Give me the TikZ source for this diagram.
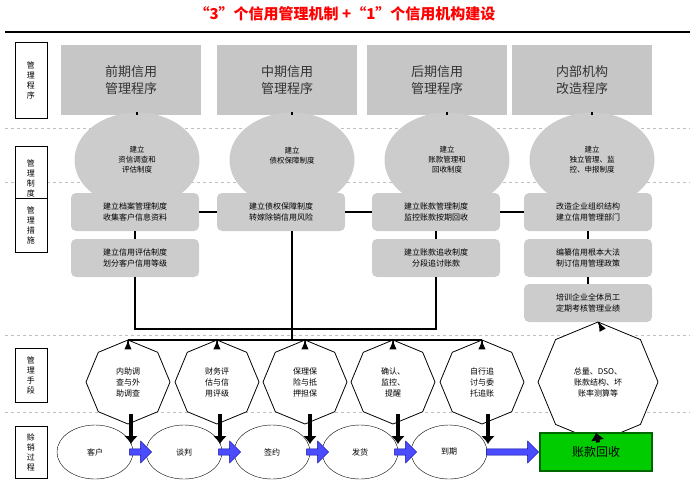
\documentclass[tikz,border=0pt]{standalone}
\usepackage{fontspec}
\setmainfont{Noto Sans CJK SC}
\usetikzlibrary{positioning,shapes.geometric,shapes.arrows,arrows.meta}
\tikzset{
  rowlab/.style={draw,thick,fill=white,minimum width=32pt,align=center,font=\fontsize{8}{10}\selectfont,inner sep=1pt},
  prog/.style={fill=gray!45,minimum width=140pt,minimum height=70pt,align=center,font=\fontsize{13}{17}\selectfont,text=black!80},
  inst/.style={ellipse,fill=gray!40,minimum width=125pt,minimum height=95pt,align=center,font=\fontsize{7.5}{10}\selectfont},
  meas/.style={rounded corners=5pt,fill=gray!40,minimum width=128pt,minimum height=38pt,align=center,font=\fontsize{8}{11}\selectfont},
  tool/.style={regular polygon,regular polygon sides=8,shape border rotate=22.5,draw,thick,fill=white,minimum width=84pt,inner sep=0pt,align=center,font=\fontsize{8}{11}\selectfont},
  stage/.style={ellipse,draw,fill=white,minimum width=76pt,minimum height=54pt,font=\fontsize{8}{10}\selectfont},
  blue arrow/.style={single arrow,draw=blue!60!black,fill=blue!70,minimum height=#1,minimum width=22pt,single arrow head extend=3pt,inner sep=1pt},
  link/.style={line width=2pt},
  down/.style={line width=1.5pt,-Latex},
  fat/.style={line width=4pt,-{Latex[length=8pt,width=14pt]}},
  sep/.style={gray!50,dashed}
}
\begin{document}
\begin{tikzpicture}[x=1pt,y=-1pt]
\useasboundingbox (0,0) rectangle (690,490);
\node[text=red,font=\fontsize{15}{17}\selectfont\bfseries] (title) at (345,14) {“3”个信用管理机制 +“1”个信用机构建设};
\draw[line width=1.5pt] (5,32) -- (690,32);
% separators
\foreach \y in {128,182,335,412} \draw[sep] (5,\y) -- (690,\y);
% row labels
\node[rowlab,minimum height=76pt] (r1) at (31,80) {管\\理\\程\\序};
\node[rowlab,minimum height=64pt] (r2) at (31,178) {管\\理\\制\\度};
\node[rowlab,minimum height=54pt] (r3) at (31,225) {管\\理\\措\\施};
\node[rowlab,minimum height=54pt] (r4) at (31,375) {管\\理\\手\\段};
\node[rowlab,minimum height=52pt] (r5) at (31,452) {赊\\销\\过\\程};
% programmes
\node[prog] (p1) at (131,80) {前期信用\\管理程序};
\node[prog] (p2) at (287,80) {中期信用\\管理程序};
\node[prog] (p3) at (437,80) {后期信用\\管理程序};
\node[prog] (p4) at (582,80) {内部机构\\改造程序};
% institutions
\node[inst] (i1) at (137,160) {建立\\资信调查和\\评估制度};
\node[inst] (i2) at (292,160) {建立\\债权保障制度\\~};
\node[inst] (i3) at (447,160) {建立\\账款管理和\\回收制度};
\node[inst] (i4) at (592,160) {建立\\独立管理、监\\控、申报制度};
\foreach \i in {1,...,4} \draw[link] (p\i.south -| i\i) -- (i\i.north);
% measures
\node[meas] (m1) at (135,212) {建立档案管理制度\\收集客户信息资料};
\node[meas] (m2) at (281,212) {建立债权保障制度\\转嫁除销信用风险};
\node[meas] (m3) at (436,212) {建立账款管理制度\\监控账款按期回收};
\node[meas] (m4) at (588,212) {改造企业组织结构\\建立信用管理部门};
\node[meas] (m5) at (135,258) {建立信用评估制度\\划分客户信用等级};
\node[meas] (m6) at (436,258) {建立账款追收制度\\分段追讨账款};
\node[meas] (m7) at (588,258) {编纂信用根本大法\\制订信用管理政策};
\node[meas] (m8) at (588,303) {培训企业全体员工\\定期考核管理业绩};
\draw[link] (m1) -- (m2) (m2) -- (m3) (m3) -- (m4);
\draw[link] (m1) -- (m5) (m3) -- (m6) (m4) -- (m7) (m7) -- (m8);
\coordinate (j0) at (292,329);
\draw[link] (m5.south) |- (j0) -| (m6.south);
\draw[link] (m2.south -| j0) -- (292,340);
% tools
\node[tool] (t1) at (128,382) {内助调\\查与外\\助调查};
\node[tool] (t2) at (217,382) {财务评\\估与信\\用评级};
\node[tool] (t3) at (305,382) {保理保\\险与抵\\押担保};
\node[tool] (t4) at (393,382) {确认、\\监控、\\提醒};
\node[tool] (t5) at (482,382) {自行追\\讨与委\\托追账};
\node[tool,minimum width=120pt] (t6) at (598,382) {总量、DSO、\\账款结构、坏\\账率测算等};
\draw[link] (128,340) -- (482,340);
\foreach \i/\x in {1/128,2/217,3/305,4/393,5/482} \draw[down] (\x,340) -- (t\i.north);
\draw[down] (m8) -- (t6.north);
% steps
\node[stage] (s1) at (95,452) {客户};
\node[stage] (s2) at (184,452) {谈判};
\node[stage] (s3) at (272,452) {签约};
\node[stage] (s4) at (360,452) {发货};
\node[stage] (s5) at (449,452) {到期};
\node[draw=green!40!black,line width=1.5pt,fill=green!80!black,minimum width=112pt,minimum height=38pt,font=\fontsize{12}{14}\selectfont] (goal) at (596,452) {账款回收};
\node[blue arrow=22pt] (a1) at (139,452) {};
\node[blue arrow=22pt] (a2) at (228,452) {};
\node[blue arrow=22pt] (a3) at (316,452) {};
\node[blue arrow=22pt] (a4) at (404,452) {};
\node[blue arrow=52pt] (a5) at (511,452) {};
\foreach \i/\x in {1/131,2/220,3/310,4/398,5/488} \draw[fat] (\x,414) -- (\x,444);
\draw[fat] (t6.south) -- (goal.north);
\end{tikzpicture}
\end{document}
